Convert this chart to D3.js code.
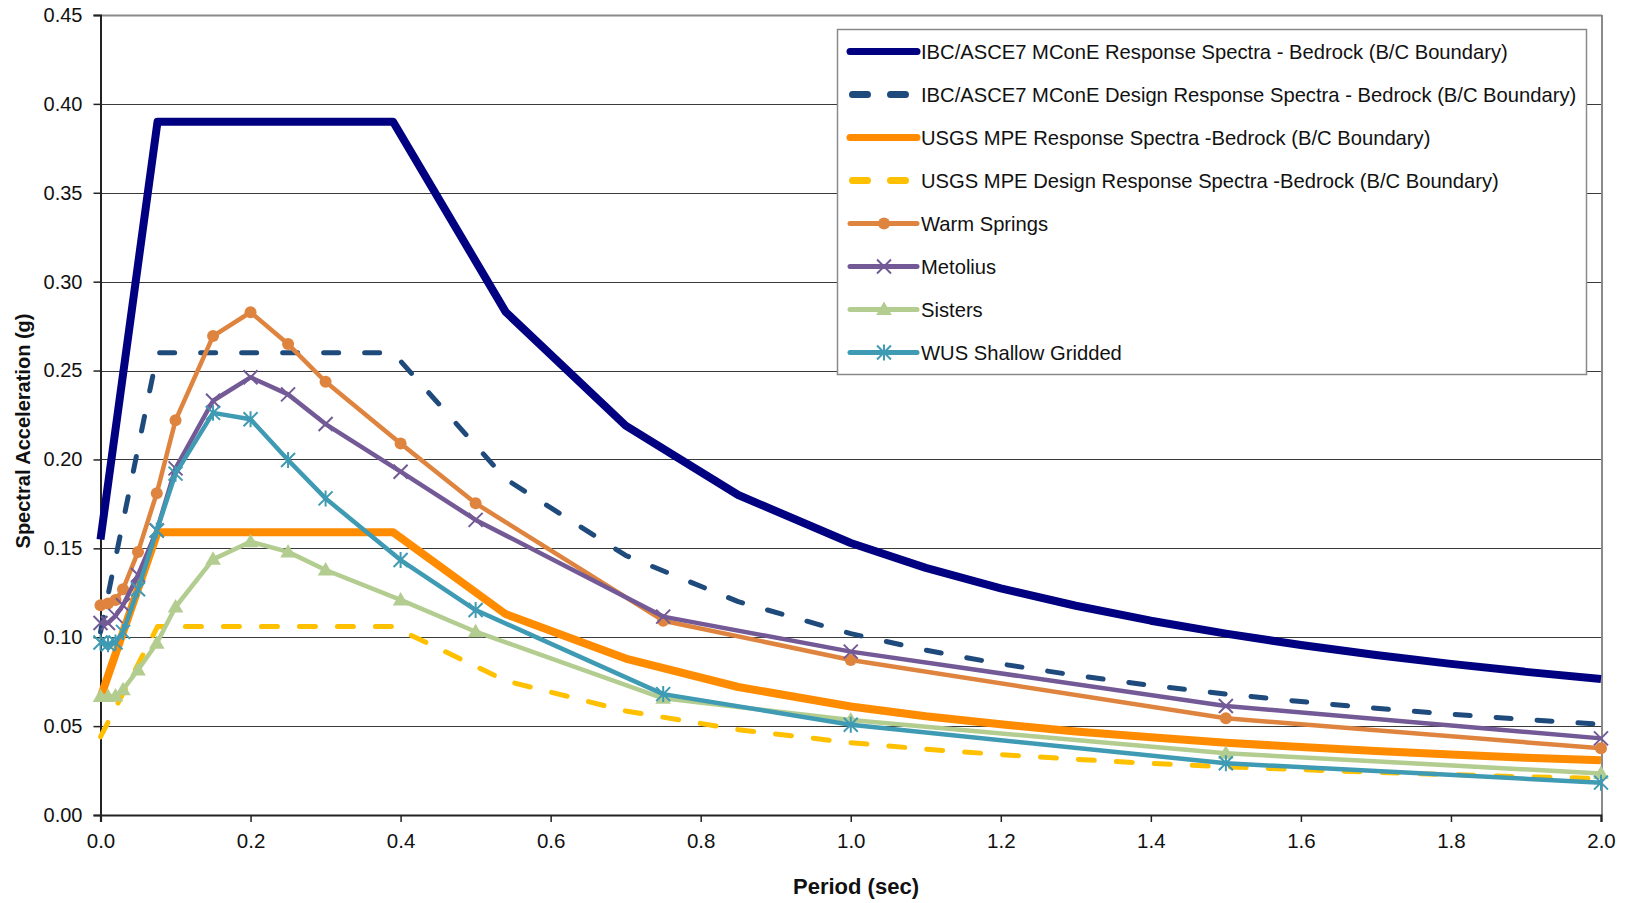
<!DOCTYPE html>
<html>
<head>
<meta charset="utf-8">
<script src="https://cdn.jsdelivr.net/npm/d3@7"></script>
<style>
  html, body { margin: 0; padding: 0; background: #fff; }
  svg { display: block; font-family: "Liberation Sans", Arial, sans-serif; }
</style>
</head>
<body>
<svg id="chart" width="1631" height="903"></svg>
<script>
// ---------- DATA ----------
const codePeriods = [0, 0.076, 0.39, 0.54, 0.70, 0.85, 1.0, 1.1, 1.2, 1.3, 1.4, 1.5, 1.6, 1.7, 1.8, 1.9, 2.0];
const ibcMCE      = [0.155, 0.390, 0.390, 0.283, 0.219, 0.180, 0.153, 0.139, 0.1275, 0.1177, 0.1093, 0.102, 0.0956, 0.090, 0.085, 0.0805, 0.0765];
const ibcDesign   = [0.103, 0.260, 0.260, 0.189, 0.146, 0.120, 0.102, 0.0927, 0.085, 0.0785, 0.0729, 0.068, 0.0638, 0.060, 0.0567, 0.0537, 0.051];
const usgsMPE     = [0.066, 0.159, 0.159, 0.113, 0.088, 0.072, 0.061, 0.0555, 0.051, 0.047, 0.0437, 0.0407, 0.0382, 0.036, 0.034, 0.0322, 0.0308];
const usgsDesign  = [0.044, 0.106, 0.106, 0.0755, 0.0585, 0.048, 0.0407, 0.037, 0.034, 0.0313, 0.029, 0.0271, 0.0255, 0.024, 0.0227, 0.0215, 0.0205];

const sitePeriods = [0, 0.01, 0.02, 0.03, 0.05, 0.075, 0.1, 0.15, 0.2, 0.25, 0.3, 0.4, 0.5, 0.75, 1.0, 1.5, 2.0];
const warmSprings = [0.118, 0.119, 0.121, 0.127, 0.148, 0.181, 0.222, 0.2694, 0.2828, 0.2649, 0.2437, 0.209, 0.1753, 0.1093, 0.0872, 0.0544, 0.0375];
const metolius    = [0.108, 0.108, 0.112, 0.118, 0.135, 0.160, 0.195, 0.233, 0.2462, 0.2366, 0.2199, 0.1931, 0.166, 0.1116, 0.0919, 0.0613, 0.0431];
const sisters     = [0.0666, 0.0666, 0.067, 0.0705, 0.0816, 0.0966, 0.117, 0.1438, 0.1537, 0.148, 0.1378, 0.121, 0.1031, 0.0656, 0.0534, 0.0347, 0.0234];
const wusShallow  = [0.097, 0.096, 0.097, 0.103, 0.127, 0.160, 0.192, 0.2262, 0.2226, 0.1997, 0.1781, 0.1434, 0.1153, 0.068, 0.0508, 0.0291, 0.0182];

const seriesNames = [
  "IBC/ASCE7 MConE Response Spectra - Bedrock (B/C Boundary)",
  "IBC/ASCE7 MConE Design Response Spectra - Bedrock (B/C Boundary)",
  "USGS MPE Response Spectra -Bedrock (B/C Boundary)",
  "USGS MPE Design Response Spectra -Bedrock (B/C Boundary)",
  "Warm Springs",
  "Metolius",
  "Sisters",
  "WUS Shallow Gridded"
];
const xTicks = [0, 0.2, 0.4, 0.6, 0.8, 1.0, 1.2, 1.4, 1.6, 1.8, 2.0];
const yTicks = [0, 0.05, 0.10, 0.15, 0.20, 0.25, 0.30, 0.35, 0.40, 0.45];
const xTitle = "Period (sec)";
const yTitle = "Spectral Acceleration (g)";

// ---------- STYLE ----------
const styles = [
  {color: "#000080", width: 8, dash: null, marker: null},
  {color: "#1F4A7C", width: 5, dash: "15,26", legendDash: "15,23", marker: null},
  {color: "#FF8C00", width: 8, dash: null, marker: null},
  {color: "#FFC000", width: 5, dash: "16,22", legendDash: "15,23", marker: null},
  {color: "#DF843F", width: 4.5, dash: null, marker: "circle"},
  {color: "#735A96", width: 4.5, dash: null, marker: "x"},
  {color: "#B3CC8F", width: 4.5, dash: null, marker: "triangle"},
  {color: "#3F9AB3", width: 4.5, dash: null, marker: "star"}
];

const seriesData = [
  {x: codePeriods, y: ibcMCE},
  {x: codePeriods, y: ibcDesign},
  {x: codePeriods, y: usgsMPE},
  {x: codePeriods, y: usgsDesign},
  {x: sitePeriods, y: warmSprings},
  {x: sitePeriods, y: metolius},
  {x: sitePeriods, y: sisters},
  {x: sitePeriods, y: wusShallow}
];

(function () {
// ---------- LAYOUT ----------
const svg = d3.select("#chart");
const pL = 100.5, pR = 1601, pT = 15, pB = 815;
const x = d3.scaleLinear().domain([0, 2.0]).range([pL, pR]);
const y = d3.scaleLinear().domain([0, 0.45]).range([pB, pT]);

// gridlines
svg.append("g").selectAll("line")
  .data(yTicks.filter(d => d > 0 && d < 0.45))
  .join("line")
  .attr("x1", pL).attr("x2", pR)
  .attr("y1", d => Math.round(y(d)) + 0.5).attr("y2", d => Math.round(y(d)) + 0.5)
  .attr("stroke", "#3a3a3a").attr("stroke-width", 1.2);

// frame top / right (gray)
svg.append("line").attr("x1", pL).attr("x2", pR + 1).attr("y1", pT + 0.5).attr("y2", pT + 0.5)
  .attr("stroke", "#8a8a8a").attr("stroke-width", 2);
svg.append("line").attr("x1", pR + 1).attr("x2", pR + 1).attr("y1", pT).attr("y2", pB)
  .attr("stroke", "#8a8a8a").attr("stroke-width", 2);

// axes
const yAxis = d3.axisLeft(y).tickValues(yTicks).tickFormat(d3.format(".2f")).tickSize(7).tickPadding(11);
const gy = svg.append("g").attr("transform", `translate(${pL},0)`).call(yAxis);
gy.select(".domain").attr("stroke", "#222").attr("stroke-width", 2);
gy.selectAll(".tick line").attr("stroke", "#222").attr("stroke-width", 1.5);
gy.selectAll(".tick text").attr("font-size", 20).attr("fill", "#111")
  .attr("font-family", "'Liberation Sans', Arial, sans-serif");

const xAxis = d3.axisBottom(x).tickValues(xTicks).tickFormat(d3.format(".1f")).tickSize(7).tickPadding(11);
const gx = svg.append("g").attr("transform", `translate(0,${pB})`).call(xAxis);
gx.select(".domain").attr("stroke", "#222").attr("stroke-width", 2.2);
gx.selectAll(".tick line").attr("stroke", "#222").attr("stroke-width", 1.5);
gx.selectAll(".tick text").attr("font-size", 20.5).attr("fill", "#111")
  .attr("font-family", "'Liberation Sans', Arial, sans-serif");

// axis titles
svg.append("text").attr("x", 856).attr("y", 894).attr("text-anchor", "middle")
  .attr("font-size", 22).attr("font-weight", "bold").attr("fill", "#111").text(xTitle);
svg.append("text").attr("transform", "translate(30,431) rotate(-90)").attr("text-anchor", "middle")
  .attr("font-size", 20).attr("font-weight", "bold").attr("fill", "#111").text(yTitle);

// markers
function drawMarker(g, type, cx, cy, color) {
  if (type === "circle") {
    g.append("circle").attr("cx", cx).attr("cy", cy).attr("r", 6).attr("fill", color);
  } else if (type === "triangle") {
    const s = d3.symbol().type(d3.symbolTriangle).size(105);
    g.append("path").attr("d", s()).attr("transform", `translate(${cx},${cy + 1})`).attr("fill", color);
  } else if (type === "x") {
    const h = 7;
    g.append("path").attr("d", `M${cx - h},${cy - h}L${cx + h},${cy + h}M${cx - h},${cy + h}L${cx + h},${cy - h}`)
      .attr("stroke", color).attr("stroke-width", 2).attr("fill", "none");
  } else if (type === "star") {
    const h = 7;
    g.append("path").attr("d", `M${cx - h},${cy - h}L${cx + h},${cy + h}M${cx - h},${cy + h}L${cx + h},${cy - h}M${cx},${cy - h - 1}L${cx},${cy + h + 1}`)
      .attr("stroke", color).attr("stroke-width", 2).attr("fill", "none");
  }
}

// series
const line = d3.line().x(d => x(d[0])).y(d => y(d[1]));
const plot = svg.append("g");
seriesData.forEach((s, i) => {
  const st = styles[i];
  const pts = s.x.map((px, j) => [px, s.y[j]]);
  const g = plot.append("g");
  g.append("path").attr("d", line(pts))
    .attr("fill", "none").attr("stroke", st.color).attr("stroke-width", st.width)
    .attr("stroke-linejoin", "round")
    .attr("stroke-linecap", st.dash ? "round" : "butt")
    .attr("stroke-dasharray", st.dash);
  if (st.marker) pts.forEach(p => drawMarker(g, st.marker, x(p[0]), y(p[1]), st.color));
});

// legend
const lg = svg.append("g");
lg.append("rect").attr("x", 837.5).attr("y", 29.5).attr("width", 749).attr("height", 345)
  .attr("fill", "#fff").attr("stroke", "#8a8a8a").attr("stroke-width", 1.5);
seriesNames.forEach((name, i) => {
  const st = styles[i];
  const ly = 51.5 + i * 43;
  const x1 = st.dash ? 852.5 : 850, x2 = st.dash ? 915 : 917;
  lg.append("line").attr("x1", x1).attr("x2", x2).attr("y1", ly).attr("y2", ly)
    .attr("stroke", st.color).attr("stroke-width", st.marker ? 5 : 7)
    .attr("stroke-linecap", "round")
    .attr("stroke-dasharray", st.legendDash || null);
  if (st.marker) drawMarker(lg, st.marker, 884, ly, st.color);
  lg.append("text").attr("x", 921).attr("y", ly + 7).attr("font-size", 20.2).attr("fill", "#111").text(name);
});
})();
</script>
</body>
</html>
